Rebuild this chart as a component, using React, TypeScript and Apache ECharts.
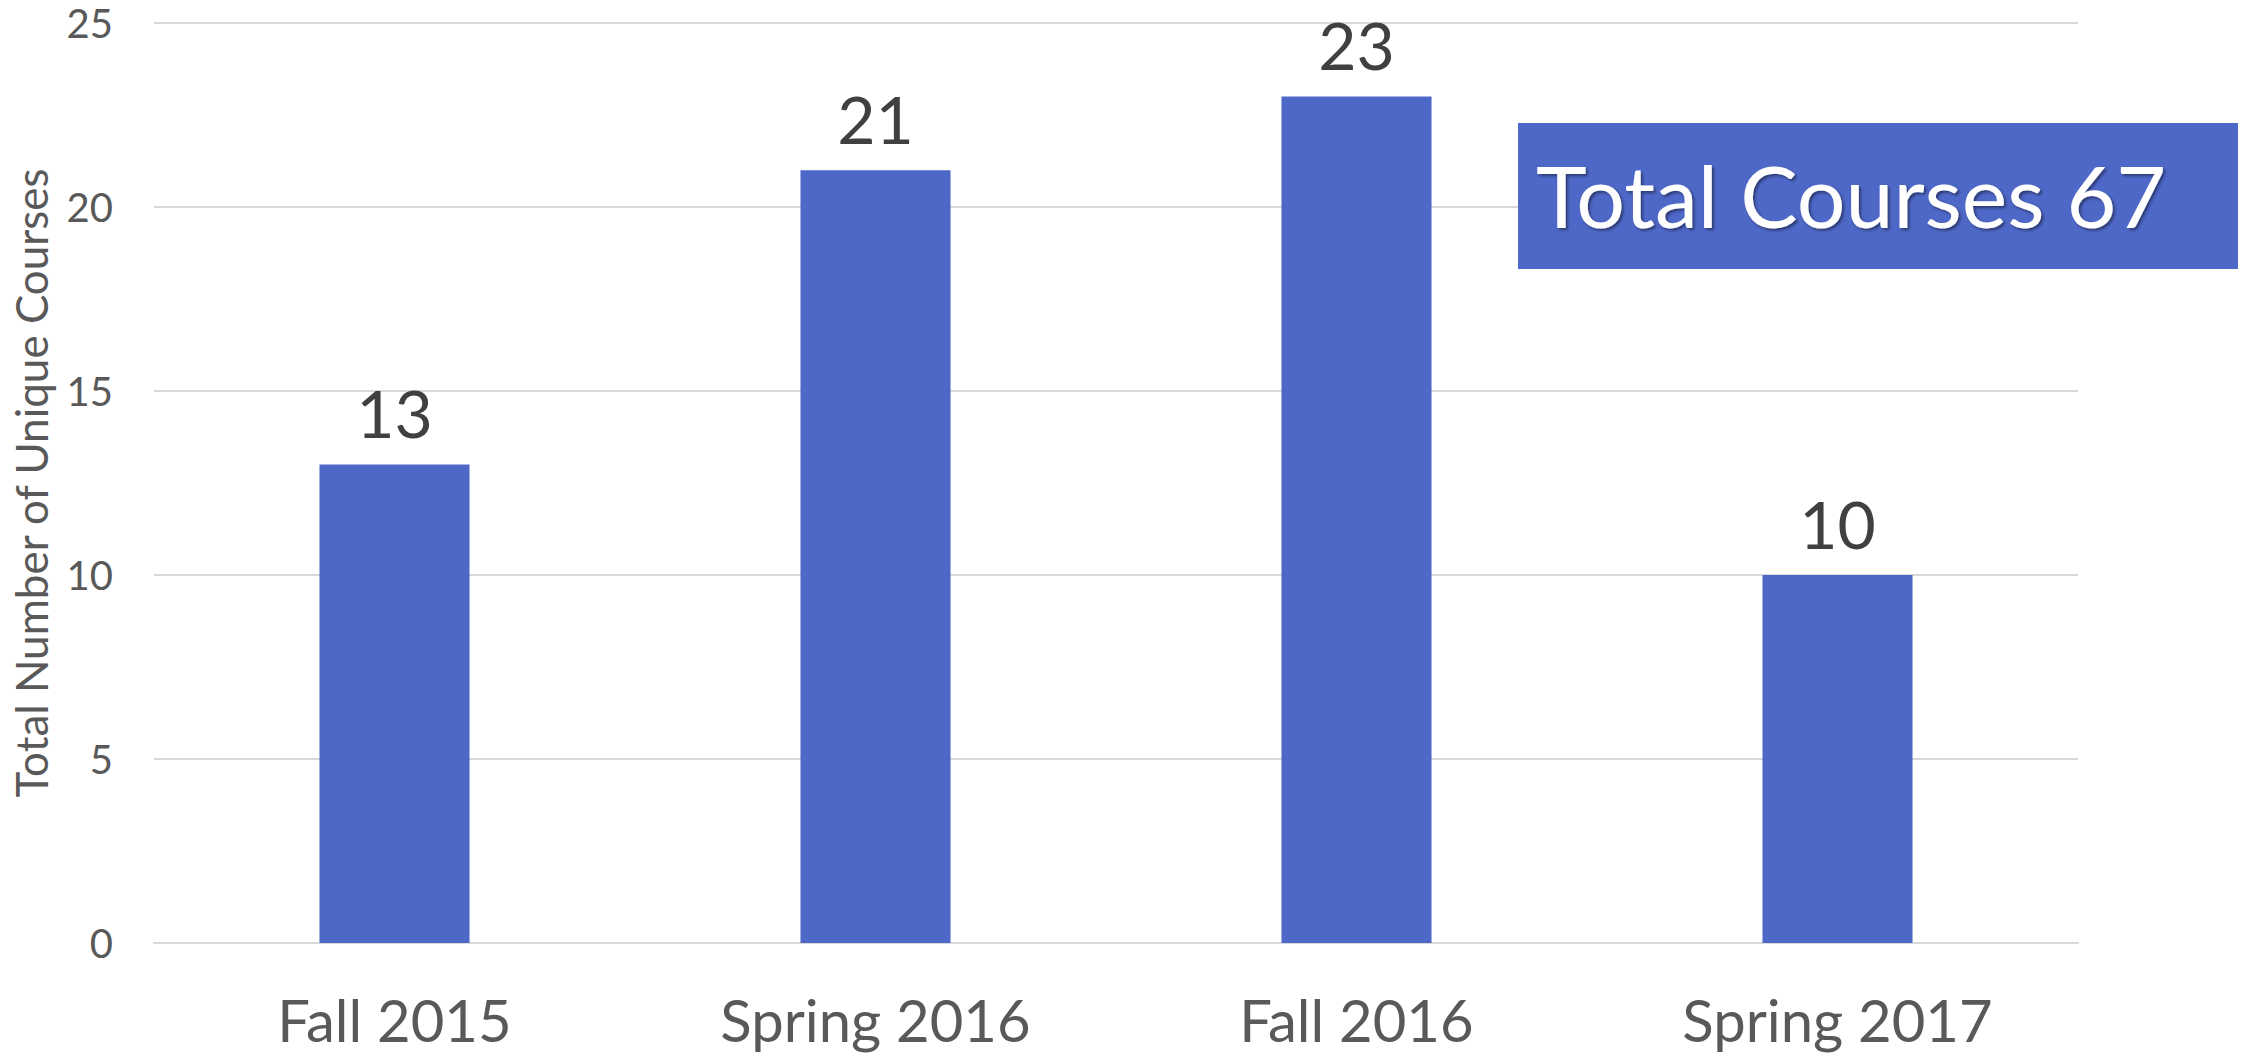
import React, { useEffect, useRef } from "react";
import * as echarts from "echarts";

const categories = ["Fall 2015", "Spring 2016", "Fall 2016", "Spring 2017"];
const courseCounts = [13, 21, 23, 10];
const yAxisTitle = "Total Number of Unique Courses";
const totalLabel = "Total Courses 67";

const BAR_COLOR = "#4E68C8";
const FONT = "Lato, 'Open Sans', sans-serif";

export default function App() {
  const ref = useRef<HTMLDivElement>(null);

  useEffect(() => {
    if (!ref.current) return;
    const chart = echarts.init(ref.current, undefined, { renderer: "svg" });
    const option = {
      animation: false,
      backgroundColor: "#ffffff",
      grid: {
        left: 154,
        right: 180,
        top: 23,
        bottom: 113,
        containLabel: false,
        outerBoundsMode: "none",
      },
      xAxis: {
        type: "category",
        data: categories,
        axisLine: { show: true, lineStyle: { color: "#D9D9D9", width: 2 } },
        axisTick: { show: false },
        axisLabel: {
          color: "#595959",
          fontFamily: FONT,
          fontSize: 58,
          lineHeight: 44,
          margin: 54,
        },
      },
      yAxis: {
        type: "value",
        min: 0,
        max: 25,
        interval: 5,
        name: yAxisTitle,
        nameLocation: "middle",
        nameGap: 101,
        nameMoveOverlap: false,
        nameTextStyle: { color: "#595959", fontFamily: FONT, fontSize: 44 },
        axisLine: { show: false },
        axisTick: { show: false },
        axisLabel: { color: "#595959", fontFamily: FONT, fontSize: 40, margin: 41 },
        splitLine: { lineStyle: { color: "#D9D9D9", width: 2 } },
      },
      series: [
        {
          type: "bar",
          data: courseCounts,
          barWidth: "31.2%",
          itemStyle: { color: BAR_COLOR },
          label: {
            show: true,
            position: "top",
            distance: 19,
            color: "#404040",
            fontFamily: FONT,
            fontSize: 66,
            lineHeight: 66,
          },
        },
      ],
      graphic: [
        {
          type: "rect",
          shape: { x: 1518, y: 123, width: 720, height: 146 },
          style: { fill: BAR_COLOR },
          z: 100,
        },
        {
          type: "text",
          x: 1536,
          y: 194,
          z: 101,
          style: {
            text: totalLabel,
            fill: "#ffffff",
            font: `86px ${FONT}`,
            textAlign: "left",
            textVerticalAlign: "middle",
            textShadowColor: "rgba(0,0,0,0.45)",
            textShadowBlur: 3,
            textShadowOffsetX: 2,
            textShadowOffsetY: 2,
          },
        },
      ],
    };
    chart.setOption(option);
    return () => chart.dispose();
  }, []);

  return (
    <div
      ref={ref}
      style={{ position: "fixed", left: 0, top: 0, width: 2258, height: 1056, background: "#fff" }}
    />
  );
}
